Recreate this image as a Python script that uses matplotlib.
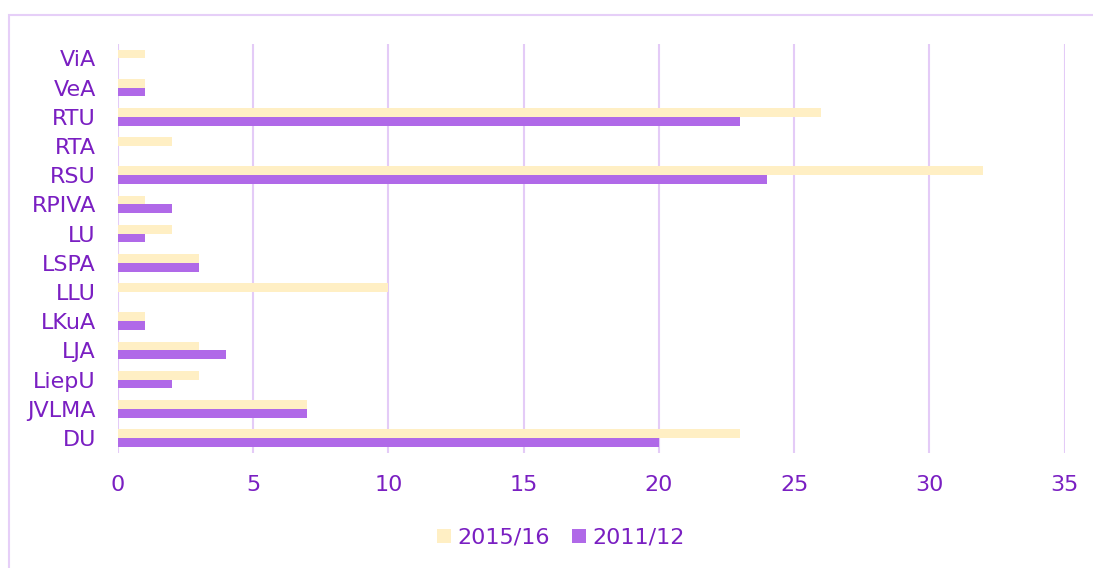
import numpy as np
import matplotlib.pyplot as plt
from matplotlib.patches import Rectangle

categories = ['DU', 'JVLMA', 'LiepU', 'LJA', 'LKuA', 'LLU', 'LSPA', 'LU',
              'RPIVA', 'RSU', 'RTA', 'RTU', 'VeA', 'ViA']
y2015 = [23, 7, 3, 3, 1, 10, 3, 2, 1, 32, 2, 26, 1, 1]
y2011 = [20, 7, 2, 4, 1, 0, 3, 1, 2, 24, 0, 23, 1, 0]
xticks = [0, 5, 10, 15, 20, 25, 30, 35]

txt = '#7a1fc2'
cream = '#ffefc4'
purple = '#b069e8'
grid = '#e4cbf7'

plt.rcParams['font.family'] = ['DejaVu Sans']

fig = plt.figure(figsize=(10.93, 5.68), dpi=100)
ax = fig.add_axes([0.108, 0.203, 0.866, 0.72])

y = np.arange(len(categories))
h = 0.3
ax.barh(y + h / 2, y2015, height=h, color=cream, label='2015/16', zorder=2)
ax.barh(y - h / 2, y2011, height=h, color=purple, label='2011/12', zorder=2)

ax.set_xlim(0, 35)
ax.set_ylim(-0.5, len(categories) - 0.5)
ax.set_xticks(xticks)
ax.set_yticks(y)
ax.set_yticklabels(categories)
ax.tick_params(axis='both', length=0, labelsize=16, labelcolor=txt)
ax.tick_params(axis='x', pad=16)
ax.tick_params(axis='y', pad=16)
ax.grid(axis='x', color=grid, linewidth=1.5, zorder=0)
for s in ax.spines.values():
    s.set_visible(False)

leg = ax.legend(loc='center', bbox_to_anchor=(0.468, -0.208), ncol=2,
                frameon=False, fontsize=16, handlelength=0.6, handleheight=0.6,
                handletextpad=0.3, columnspacing=1.0)
for t in leg.get_texts():
    t.set_color(txt)

# chart border
fig.patches.append(Rectangle((9 / 1093, -0.1), 1.2, 1 - 15 / 568 + 0.1,
                             transform=fig.transFigure, fill=False,
                             edgecolor='#e6cff8', linewidth=1.5))

fig.savefig('out.png', dpi=100)
